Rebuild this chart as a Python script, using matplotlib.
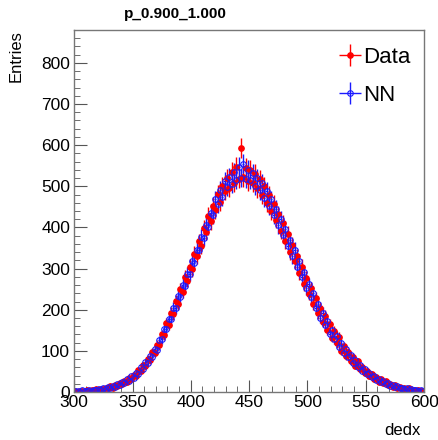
#!/usr/bin/env python3
"""
dedx distribution in the p 0.900-1.000 slice: Data vs NN.
ROOT-style histogram with error bars.
"""

import numpy as np
import matplotlib.pyplot as plt
from matplotlib.ticker import MultipleLocator

plt.rcParams['font.family'] = ['Liberation Sans', 'DejaVu Sans']

# Binning (dedx), 2 units per bin from 300 to 600
BIN_EDGES = np.arange(300, 601, 2)

# Entries per bin (one row = 10 dedx units)
data_counts = [
    2, 1, 3, 3, 2,
    4, 3, 5, 4, 7,
    5, 8, 7, 11, 9,
    14, 11, 16, 15, 22,
    19, 26, 25, 35, 31,
    42, 40, 53, 50, 66,
    63, 80, 78, 97, 94,
    115, 114, 140, 139, 168,
    164, 192, 190, 222, 214,
    250, 243, 280, 271, 305,
    298, 336, 330, 366, 355,
    398, 388, 428, 415, 452,
    442, 482, 462, 500, 488,
    520, 496, 535, 508, 548,
    518, 592, 522, 545, 512,
    540, 508, 530, 495, 518,
    480, 500, 460, 478, 440,
    458, 418, 432, 392, 410,
    368, 384, 340, 358, 318,
    330, 290, 305, 262, 278,
    238, 252, 215, 228, 192,
    205, 170, 186, 150, 165,
    132, 148, 118, 134, 100,
    112, 88, 98, 76, 86,
    64, 75, 55, 62, 46,
    52, 38, 44, 31, 36,
    25, 31, 21, 26, 17,
    19, 13, 16, 10, 13,
    8, 11, 6, 9, 5,
    6, 3, 4, 2, 3,
]
nn_counts = [
    3, 2, 1, 4, 3,
    2, 5, 3, 6, 5,
    8, 6, 10, 8, 12,
    10, 15, 13, 19, 17,
    24, 21, 31, 28, 38,
    35, 47, 45, 60, 56,
    72, 70, 88, 86, 105,
    102, 126, 128, 152, 152,
    178, 178, 205, 204, 233,
    230, 260, 258, 288, 288,
    318, 314, 346, 344, 376,
    375, 405, 402, 436, 430,
    468, 456, 490, 474, 512,
    498, 522, 506, 534, 515,
    548, 520, 555, 518, 540,
    515, 532, 500, 520, 490,
    508, 472, 488, 452, 468,
    430, 446, 405, 420, 382,
    395, 356, 370, 330, 345,
    305, 318, 280, 292, 252,
    262, 230, 240, 205, 215,
    180, 192, 162, 172, 142,
    150, 128, 136, 110, 120,
    96, 104, 84, 90, 70,
    78, 60, 66, 50, 56,
    44, 47, 36, 40, 29,
    32, 24, 27, 19, 22,
    15, 18, 12, 14, 10,
    11, 8, 9, 6, 7,
    4, 5, 2, 4, 2,
]

series = [
    ('Data', data_counts, '#ff0000', '#ff0000'),
    ('NN', nn_counts, '#1a1aff', 'none'),
]


def main():
    fig = plt.figure(figsize=(4.39, 4.40), dpi=100)
    ax = fig.add_axes([0.169, 0.109, 0.797, 0.823])

    centers = 0.5 * (BIN_EDGES[:-1] + BIN_EDGES[1:])
    half_w = 0.5 * np.diff(BIN_EDGES)

    handles = []
    for label, counts, color, face in series:
        counts = np.asarray(counts, dtype=float)
        h = ax.errorbar(centers, counts, xerr=half_w, yerr=np.sqrt(counts),
                        fmt='o', color=color, mfc=face, mec=color,
                        ms=4, mew=0.8, elinewidth=1.0, capsize=0,
                        label=label)
        handles.append(h)

    ax.set_xlim(300, 600)
    ax.set_ylim(0, 880)

    ax.xaxis.set_major_locator(MultipleLocator(50))
    ax.xaxis.set_minor_locator(MultipleLocator(10))
    ax.yaxis.set_major_locator(MultipleLocator(100))
    ax.yaxis.set_minor_locator(MultipleLocator(20))
    ax.tick_params(which='both', direction='in', top=False, right=False,
                   color='#555555', labelsize=12.5)
    ax.tick_params(which='major', length=9)
    ax.tick_params(which='minor', length=4.5)
    ax.tick_params(axis='x', pad=2)
    ax.tick_params(axis='y', pad=3)
    for sp in ax.spines.values():
        sp.set_color('#777777')
        sp.set_linewidth(1.0)

    ax.set_xlabel('dedx', fontsize=12)
    ax.xaxis.set_label_coords(0.99, -0.085)
    ax.xaxis.label.set_horizontalalignment('right')
    ax.set_ylabel('Entries', fontsize=12)
    ax.yaxis.set_label_coords(-0.145, 1.0)
    ax.yaxis.label.set_horizontalalignment('right')

    fig.text(0.282, 0.968, 'p_0.900_1.000', fontsize=11, fontweight='bold',
             ha='left', va='center')

    ax.legend(handles=handles, labels=['Data', 'NN'], loc='upper right',
              bbox_to_anchor=(1.0, 0.99), frameon=False, fontsize=16,
              handlelength=1.0, handletextpad=0.1, labelspacing=0.75,
              borderaxespad=0.2)

    fig.savefig('out.png', dpi=100)
    plt.close(fig)


if __name__ == '__main__':
    main()
